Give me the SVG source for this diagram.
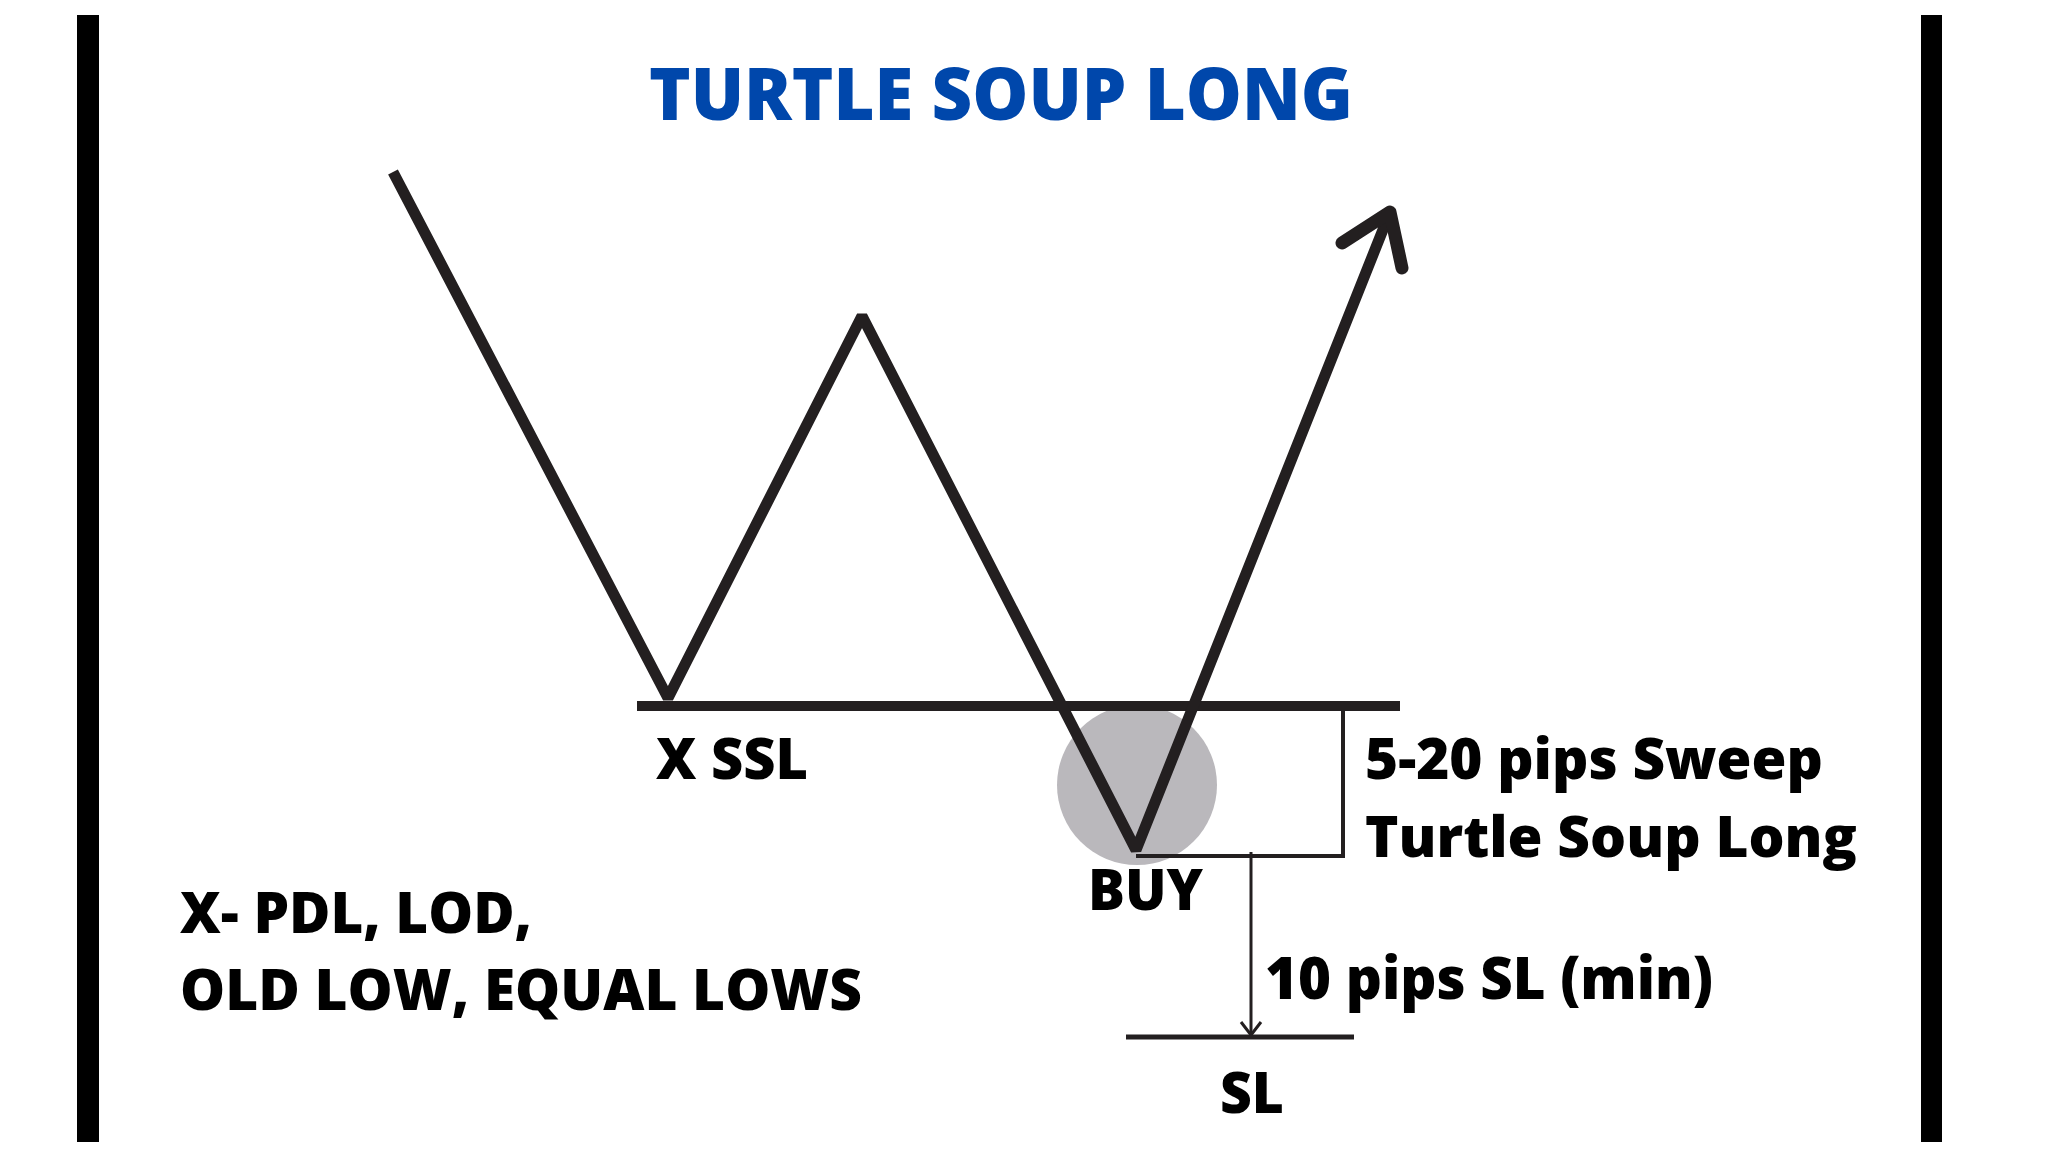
<svg xmlns="http://www.w3.org/2000/svg" width="2048" height="1152" viewBox="0 0 2048 1152">
<style>
.t{font-family:"Open Sans","Liberation Sans",sans-serif;font-weight:800;fill:#000}
.ln{fill:none;stroke:#231F20}
</style>
<rect width="2048" height="1152" fill="#fff"/>
<g id="frame">
<rect x="77" y="15" width="22" height="1127" fill="#000"/>
<rect x="1921" y="15" width="21" height="1127" fill="#000"/>
</g>
<g id="title"><text class="t" x="649" y="120" font-size="72" style="fill:#0047AB" textLength="704" lengthAdjust="spacingAndGlyphs">TURTLE SOUP LONG</text></g>
<g id="buy-zone"><circle cx="1137" cy="785" r="80" fill="#BAB8BC"/></g>
<g id="connectors">
<line class="ln" x1="637" y1="706" x2="1400" y2="706" stroke-width="10"/>
<path class="ln" d="M393,172 L668,698 L862,316 L1136,850 L1390,212" stroke-width="11" stroke-linejoin="bevel"/>
<polyline class="ln" points="1342,243 1390,212 1402,268" stroke-width="13" stroke-linecap="round" stroke-linejoin="round"/>
<polyline class="ln" points="1136,856 1343,856 1343,706" stroke-width="4"/>
<line class="ln" x1="1251" y1="852" x2="1251" y2="1035" stroke-width="3"/>
<polyline class="ln" points="1241,1022 1251,1035 1261,1022" stroke-width="3"/>
<line class="ln" x1="1126" y1="1037" x2="1354" y2="1037" stroke-width="5"/>
</g>
<g id="labels">
<text class="t" x="656" y="779" font-size="56" textLength="152" lengthAdjust="spacingAndGlyphs">X SSL</text>
<text class="t" x="1088" y="910" font-size="56" textLength="115" lengthAdjust="spacingAndGlyphs">BUY</text>
<text class="t" x="1365" y="779" font-size="57" textLength="458" lengthAdjust="spacingAndGlyphs">5-20 pips Sweep</text>
<text class="t" x="1365" y="857" font-size="57" textLength="492" lengthAdjust="spacingAndGlyphs">Turtle Soup Long</text>
<text class="t" x="1265" y="999" font-size="58" textLength="448" lengthAdjust="spacingAndGlyphs">10 pips SL (min)</text>
<text class="t" x="1220" y="1113" font-size="56" textLength="64" lengthAdjust="spacingAndGlyphs">SL</text>
<text class="t" x="180" y="933" font-size="56" textLength="352" lengthAdjust="spacingAndGlyphs">X- PDL, LOD,</text>
<text class="t" x="180" y="1010" font-size="56" textLength="682" lengthAdjust="spacingAndGlyphs">OLD LOW, EQUAL LOWS</text>
</g>
</svg>
